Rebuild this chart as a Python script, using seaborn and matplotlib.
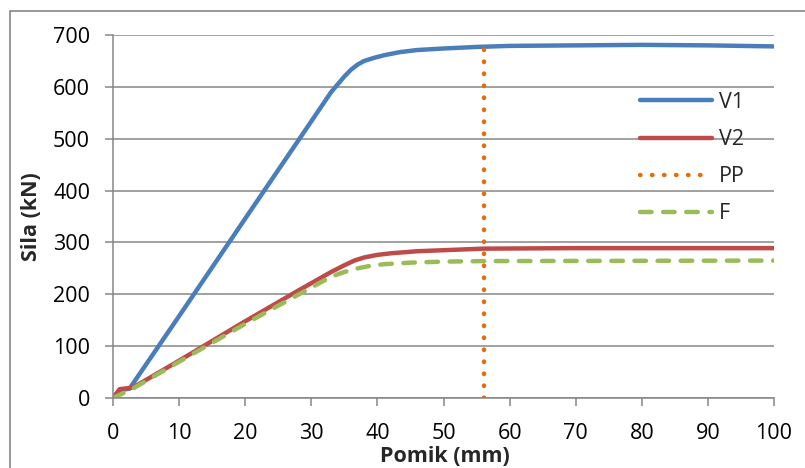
"""
Force-displacement curves (Sila vs Pomik) for V1, V2, PP and F.
"""

import matplotlib.pyplot as plt
import pandas as pd
import seaborn as sns
from matplotlib.patches import Rectangle

# =============================================================================
# DATA
# =============================================================================

v1_x = [0, 1, 2.5, 10, 20, 28, 33, 34, 35, 36, 37, 38, 39.5, 41, 43.4, 46, 50, 55, 60, 70, 80, 90, 100]
v1_y = [0, 15, 18, 158, 346, 496, 590, 605, 620, 633, 643, 650, 656, 661, 667, 671, 674, 677, 679, 680, 681, 680, 678]

v2_x = [0, 1, 3, 10, 20, 28, 33, 35, 36.5, 38, 40, 42, 46, 50, 56, 70, 100]
v2_y = [0, 17, 20, 72, 148, 207, 243, 256, 265, 271, 276, 279, 283, 285, 288, 289, 289]

f_x = [0, 3, 10, 20, 28, 33, 35, 37, 39, 41, 45, 50, 56, 100]
f_y = [0, 18, 70, 143, 199, 234, 243, 250, 255, 258, 261, 263, 264, 265]

pp_x = [56.2, 56.2]
pp_y = [0, 676]

x_ticks = list(range(0, 101, 10))
y_ticks = list(range(0, 701, 100))

GRID = "#868686"

# =============================================================================
# STYLE
# =============================================================================

sns.set_theme(style="white")
plt.rcParams["font.family"] = ["Open Sans", "DejaVu Sans"]

fig = plt.figure(figsize=(8.05, 4.68), dpi=100)
ax = fig.add_axes([0.1404, 0.1496, 0.8211, 0.7756])

# Outer chart border (Excel style)
fig.patches.append(
    Rectangle(
        (10 / 805, -0.2),
        1.2,
        1.2 - 11 / 468,
        transform=fig.transFigure,
        fill=False,
        edgecolor=GRID,
        linewidth=1.2,
    )
)

# =============================================================================
# CURVES
# =============================================================================

series = [
    ("V1", v1_x, v1_y, "#4A7EBB", None),
    ("V2", v2_x, v2_y, "#BE4B48", None),
    ("PP", pp_x, pp_y, "#E46C0A", (0, (0.1, 2.6))),
    ("F", f_x, f_y, "#9BBB59", (0, (2.6, 2.6))),
]

for name, xs, ys, color, dash in series:
    df = pd.DataFrame({"x": xs, "y": ys})
    sns.lineplot(
        data=df,
        x="x",
        y="y",
        ax=ax,
        color=color,
        linewidth=3.2,
        sort=False,
        label=name,
        estimator=None,
    )
    ln = ax.get_lines()[-1]
    ln.set_solid_capstyle("round")
    ln.set_solid_joinstyle("round")
    if dash is not None:
        ln.set_linestyle(dash)
        ln.set_dash_capstyle("round")

ax.set_xlim(0, 100)
ax.set_ylim(0, 700)
ax.set_xticks(x_ticks)
ax.set_yticks(y_ticks)
ax.yaxis.grid(True, color=GRID, linewidth=1.1)
ax.xaxis.grid(False)
ax.set_axisbelow(True)

for side in ["top", "right"]:
    ax.spines[side].set_visible(False)
for side in ["left", "bottom"]:
    ax.spines[side].set_color(GRID)
    ax.spines[side].set_linewidth(1.1)

ax.tick_params(
    axis="both",
    which="major",
    length=5.5,
    width=1.1,
    color=GRID,
    labelsize=15.5,
    labelcolor="black",
    bottom=True,
    left=True,
)
ax.tick_params(axis="y", pad=11)
ax.tick_params(axis="x", pad=12.5)

ax.set_xlabel("Pomik (mm)", fontsize=15.5, fontweight="bold")
ax.set_ylabel("Sila (kN)", fontsize=15.5, fontweight="bold")
ax.xaxis.set_label_coords(0.5015, -0.133)
ax.yaxis.set_label_coords(-0.107, 0.5)

ax.legend(
    loc="upper left",
    bbox_to_anchor=(640 / 805, 1 - 92 / 468),
    bbox_transform=fig.transFigure,
    frameon=False,
    fontsize=15.5,
    handlelength=3.35,
    handletextpad=0.3,
    labelspacing=0.75,
    borderpad=0,
    borderaxespad=0,
)

fig.savefig("out.png", dpi=100)
